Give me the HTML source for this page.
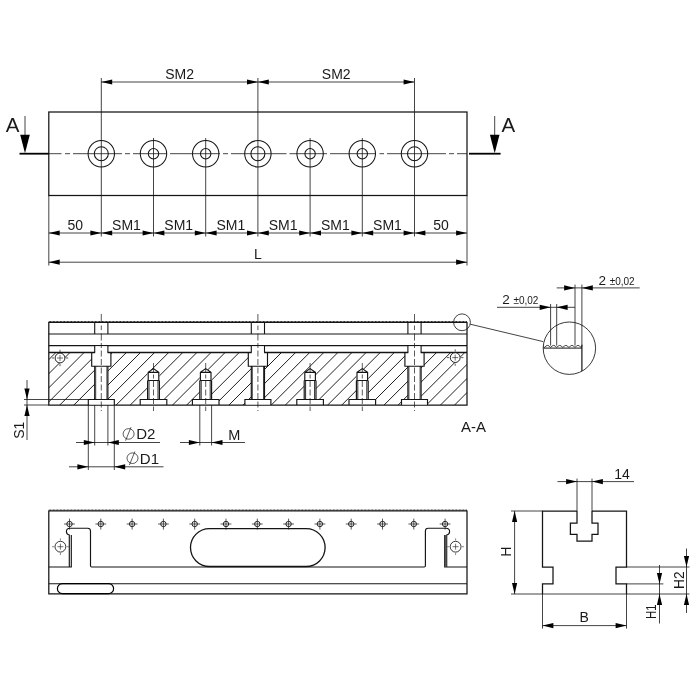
<!DOCTYPE html>
<html><head><meta charset="utf-8"><title>Drawing</title>
<style>
html,body{margin:0;padding:0;background:#fff;}
body{width:700px;height:700px;overflow:hidden;}
svg{display:block;filter:grayscale(1);}
text{font-family:"Liberation Sans",sans-serif;fill:#1a1a1a;}
</style></head><body>
<svg width="700" height="700" viewBox="0 0 700 700">
<rect width="700" height="700" fill="#fff"/>
<rect x="48.8" y="112" width="418.2" height="83.5" fill="none" stroke="#141414" stroke-width="1.25"/>
<line x1="49" y1="153.7" x2="61.5" y2="153.7" stroke="#141414" stroke-width="0.8" />
<line x1="65" y1="153.7" x2="70" y2="153.7" stroke="#141414" stroke-width="0.8" />
<line x1="73" y1="153.7" x2="122" y2="153.7" stroke="#141414" stroke-width="0.8" />
<line x1="125" y1="153.7" x2="130" y2="153.7" stroke="#141414" stroke-width="0.8" />
<line x1="133" y1="153.7" x2="167" y2="153.7" stroke="#141414" stroke-width="0.8" />
<line x1="170" y1="153.7" x2="220" y2="153.7" stroke="#141414" stroke-width="0.8" />
<line x1="223" y1="153.7" x2="228" y2="153.7" stroke="#141414" stroke-width="0.8" />
<line x1="231" y1="153.7" x2="286.5" y2="153.7" stroke="#141414" stroke-width="0.8" />
<line x1="289.5" y1="153.7" x2="327" y2="153.7" stroke="#141414" stroke-width="0.8" />
<line x1="330" y1="153.7" x2="376" y2="153.7" stroke="#141414" stroke-width="0.8" />
<line x1="379.5" y1="153.7" x2="384" y2="153.7" stroke="#141414" stroke-width="0.8" />
<line x1="387" y1="153.7" x2="446" y2="153.7" stroke="#141414" stroke-width="0.8" />
<line x1="449" y1="153.7" x2="454" y2="153.7" stroke="#141414" stroke-width="0.8" />
<line x1="457" y1="153.7" x2="467" y2="153.7" stroke="#141414" stroke-width="0.8" />
<circle cx="101.3" cy="153.7" r="13.2" stroke="#141414" stroke-width="1.05" fill="none"/>
<circle cx="101.3" cy="153.7" r="7.0" stroke="#141414" stroke-width="1.05" fill="none"/>
<line x1="101.3" y1="78" x2="101.3" y2="236.5" stroke="#141414" stroke-width="0.8" />
<circle cx="153.5" cy="153.7" r="13.2" stroke="#141414" stroke-width="1.05" fill="none"/>
<circle cx="153.5" cy="153.7" r="5.2" stroke="#141414" stroke-width="1.05" fill="none"/>
<line x1="153.5" y1="138" x2="153.5" y2="236.5" stroke="#141414" stroke-width="0.8" />
<circle cx="205.7" cy="153.7" r="13.2" stroke="#141414" stroke-width="1.05" fill="none"/>
<circle cx="205.7" cy="153.7" r="5.2" stroke="#141414" stroke-width="1.05" fill="none"/>
<line x1="205.7" y1="138" x2="205.7" y2="236.5" stroke="#141414" stroke-width="0.8" />
<circle cx="257.9" cy="153.7" r="13.2" stroke="#141414" stroke-width="1.05" fill="none"/>
<circle cx="257.9" cy="153.7" r="7.0" stroke="#141414" stroke-width="1.05" fill="none"/>
<line x1="257.9" y1="78" x2="257.9" y2="236.5" stroke="#141414" stroke-width="0.8" />
<circle cx="310.1" cy="153.7" r="13.2" stroke="#141414" stroke-width="1.05" fill="none"/>
<circle cx="310.1" cy="153.7" r="5.2" stroke="#141414" stroke-width="1.05" fill="none"/>
<line x1="310.1" y1="138" x2="310.1" y2="236.5" stroke="#141414" stroke-width="0.8" />
<circle cx="362.3" cy="153.7" r="13.2" stroke="#141414" stroke-width="1.05" fill="none"/>
<circle cx="362.3" cy="153.7" r="5.2" stroke="#141414" stroke-width="1.05" fill="none"/>
<line x1="362.3" y1="138" x2="362.3" y2="236.5" stroke="#141414" stroke-width="0.8" />
<circle cx="414.5" cy="153.7" r="13.2" stroke="#141414" stroke-width="1.05" fill="none"/>
<circle cx="414.5" cy="153.7" r="7.0" stroke="#141414" stroke-width="1.05" fill="none"/>
<line x1="414.5" y1="78" x2="414.5" y2="236.5" stroke="#141414" stroke-width="0.8" />
<line x1="19.5" y1="153.7" x2="48.8" y2="153.7" stroke="#000" stroke-width="1.8" />
<line x1="469" y1="153.7" x2="500.6" y2="153.7" stroke="#000" stroke-width="1.8" />
<line x1="25" y1="116" x2="25" y2="136" stroke="#141414" stroke-width="0.8" />
<line x1="494.7" y1="116" x2="494.7" y2="136" stroke="#141414" stroke-width="0.8" />
<polygon points="25,153.2 20.2,134.8 29.8,134.8" fill="#000"/>
<polygon points="494.7,153.2 489.9,134.8 499.5,134.8" fill="#000"/>
<text x="12.7" y="131.8" font-size="20.5" text-anchor="middle" >A</text>
<text x="508.4" y="131.8" font-size="20.5" text-anchor="middle" >A</text>
<line x1="101.3" y1="82" x2="414.5" y2="82" stroke="#141414" stroke-width="0.8" />
<polygon points="101.3,82 112.20,79.40 112.20,84.60" fill="#000"/>
<polygon points="257.9,82 247.00,84.60 247.00,79.40" fill="#000"/>
<polygon points="257.9,82 268.80,79.40 268.80,84.60" fill="#000"/>
<polygon points="414.5,82 403.60,84.60 403.60,79.40" fill="#000"/>
<text x="179.6" y="79" font-size="14" text-anchor="middle" >SM2</text>
<text x="336.2" y="79" font-size="14" text-anchor="middle" >SM2</text>
<line x1="48.8" y1="195.5" x2="48.8" y2="265.5" stroke="#141414" stroke-width="0.8" />
<line x1="467.0" y1="195.5" x2="467.0" y2="265.5" stroke="#141414" stroke-width="0.8" />
<line x1="48.8" y1="233" x2="467.0" y2="233" stroke="#141414" stroke-width="0.8" />
<polygon points="48.8,233 59.70,230.40 59.70,235.60" fill="#000"/>
<polygon points="101.3,233 90.40,235.60 90.40,230.40" fill="#000"/>
<text x="75.35" y="229.7" font-size="14" text-anchor="middle" >50</text>
<polygon points="101.3,233 112.20,230.40 112.20,235.60" fill="#000"/>
<polygon points="153.5,233 142.60,235.60 142.60,230.40" fill="#000"/>
<text x="126.5" y="229.7" font-size="14" text-anchor="middle" >SM1</text>
<polygon points="153.5,233 164.40,230.40 164.40,235.60" fill="#000"/>
<polygon points="205.7,233 194.80,235.60 194.80,230.40" fill="#000"/>
<text x="178.7" y="229.7" font-size="14" text-anchor="middle" >SM1</text>
<polygon points="205.7,233 216.60,230.40 216.60,235.60" fill="#000"/>
<polygon points="257.9,233 247.00,235.60 247.00,230.40" fill="#000"/>
<text x="230.89999999999998" y="229.7" font-size="14" text-anchor="middle" >SM1</text>
<polygon points="257.9,233 268.80,230.40 268.80,235.60" fill="#000"/>
<polygon points="310.1,233 299.20,235.60 299.20,230.40" fill="#000"/>
<text x="283.1" y="229.7" font-size="14" text-anchor="middle" >SM1</text>
<polygon points="310.1,233 321.00,230.40 321.00,235.60" fill="#000"/>
<polygon points="362.3,233 351.40,235.60 351.40,230.40" fill="#000"/>
<text x="335.30000000000007" y="229.7" font-size="14" text-anchor="middle" >SM1</text>
<polygon points="362.3,233 373.20,230.40 373.20,235.60" fill="#000"/>
<polygon points="414.5,233 403.60,235.60 403.60,230.40" fill="#000"/>
<text x="387.5" y="229.7" font-size="14" text-anchor="middle" >SM1</text>
<polygon points="414.5,233 425.40,230.40 425.40,235.60" fill="#000"/>
<polygon points="467.0,233 456.10,235.60 456.10,230.40" fill="#000"/>
<text x="441.05" y="229.7" font-size="14" text-anchor="middle" >50</text>
<line x1="48.8" y1="262.2" x2="467.0" y2="262.2" stroke="#141414" stroke-width="0.8" />
<polygon points="48.8,262.2 59.70,259.60 59.70,264.80" fill="#000"/>
<polygon points="467.0,262.2 456.10,264.80 456.10,259.60" fill="#000"/>
<text x="258" y="259.2" font-size="14" text-anchor="middle" >L</text>
<defs><clipPath id="hc"><path clip-rule="evenodd" d="
M48.8,352.5 H467.0 V405 H48.8 Z M91.7,352.5 H110.89999999999999 V366.2 H107.89999999999999 V399.5 H114.3 V405 H88.3 V399.5 H94.7 V366.2 H91.7 Z M147.6,372.3 L153.5,368.6 L159.4,372.3 V399.5 H166.8 V405 H140.2 V399.5 H147.6 Z M199.79999999999998,372.3 L205.7,368.6 L211.6,372.3 V399.5 H219.0 V405 H192.39999999999998 V399.5 H199.79999999999998 Z M248.29999999999998,352.5 H267.5 V366.2 H264.5 V399.5 H270.9 V405 H244.89999999999998 V399.5 H251.29999999999998 V366.2 H248.29999999999998 Z M304.20000000000005,372.3 L310.1,368.6 L316.0,372.3 V399.5 H323.40000000000003 V405 H296.8 V399.5 H304.20000000000005 Z M356.40000000000003,372.3 L362.3,368.6 L368.2,372.3 V399.5 H375.6 V405 H349.0 V399.5 H356.40000000000003 Z M404.9,352.5 H424.1 V366.2 H421.1 V399.5 H427.5 V405 H401.5 V399.5 H407.9 V366.2 H404.9 Z M54.8,358 a5.2,5.2 0 1,0 10.4,0 a5.2,5.2 0 1,0 -10.4,0 Z M450.0,357.6 a5.2,5.2 0 1,0 10.4,0 a5.2,5.2 0 1,0 -10.4,0 Z "/></clipPath></defs>
<g clip-path="url(#hc)">
<line x1="-382.8" y1="340" x2="-462.8" y2="420" stroke="#141414" stroke-width="0.95"/>
<line x1="-368.7" y1="340" x2="-448.7" y2="420" stroke="#141414" stroke-width="0.95"/>
<line x1="-354.6" y1="340" x2="-434.6" y2="420" stroke="#141414" stroke-width="0.95"/>
<line x1="-340.5" y1="340" x2="-420.5" y2="420" stroke="#141414" stroke-width="0.95"/>
<line x1="-326.4" y1="340" x2="-406.4" y2="420" stroke="#141414" stroke-width="0.95"/>
<line x1="-312.3" y1="340" x2="-392.3" y2="420" stroke="#141414" stroke-width="0.95"/>
<line x1="-298.2" y1="340" x2="-378.2" y2="420" stroke="#141414" stroke-width="0.95"/>
<line x1="-284.1" y1="340" x2="-364.1" y2="420" stroke="#141414" stroke-width="0.95"/>
<line x1="-270.0" y1="340" x2="-350.0" y2="420" stroke="#141414" stroke-width="0.95"/>
<line x1="-255.9" y1="340" x2="-335.9" y2="420" stroke="#141414" stroke-width="0.95"/>
<line x1="-241.8" y1="340" x2="-321.8" y2="420" stroke="#141414" stroke-width="0.95"/>
<line x1="-227.7" y1="340" x2="-307.7" y2="420" stroke="#141414" stroke-width="0.95"/>
<line x1="-213.6" y1="340" x2="-293.6" y2="420" stroke="#141414" stroke-width="0.95"/>
<line x1="-199.5" y1="340" x2="-279.5" y2="420" stroke="#141414" stroke-width="0.95"/>
<line x1="-185.4" y1="340" x2="-265.4" y2="420" stroke="#141414" stroke-width="0.95"/>
<line x1="-171.3" y1="340" x2="-251.3" y2="420" stroke="#141414" stroke-width="0.95"/>
<line x1="-157.2" y1="340" x2="-237.2" y2="420" stroke="#141414" stroke-width="0.95"/>
<line x1="-143.1" y1="340" x2="-223.1" y2="420" stroke="#141414" stroke-width="0.95"/>
<line x1="-129.0" y1="340" x2="-209.0" y2="420" stroke="#141414" stroke-width="0.95"/>
<line x1="-114.9" y1="340" x2="-194.9" y2="420" stroke="#141414" stroke-width="0.95"/>
<line x1="-100.8" y1="340" x2="-180.8" y2="420" stroke="#141414" stroke-width="0.95"/>
<line x1="-86.7" y1="340" x2="-166.7" y2="420" stroke="#141414" stroke-width="0.95"/>
<line x1="-72.6" y1="340" x2="-152.6" y2="420" stroke="#141414" stroke-width="0.95"/>
<line x1="-58.5" y1="340" x2="-138.5" y2="420" stroke="#141414" stroke-width="0.95"/>
<line x1="-44.4" y1="340" x2="-124.4" y2="420" stroke="#141414" stroke-width="0.95"/>
<line x1="-30.3" y1="340" x2="-110.3" y2="420" stroke="#141414" stroke-width="0.95"/>
<line x1="-16.2" y1="340" x2="-96.2" y2="420" stroke="#141414" stroke-width="0.95"/>
<line x1="-2.1" y1="340" x2="-82.1" y2="420" stroke="#141414" stroke-width="0.95"/>
<line x1="12.0" y1="340" x2="-68.0" y2="420" stroke="#141414" stroke-width="0.95"/>
<line x1="26.1" y1="340" x2="-53.9" y2="420" stroke="#141414" stroke-width="0.95"/>
<line x1="40.2" y1="340" x2="-39.8" y2="420" stroke="#141414" stroke-width="0.95"/>
<line x1="54.3" y1="340" x2="-25.7" y2="420" stroke="#141414" stroke-width="0.95"/>
<line x1="68.4" y1="340" x2="-11.6" y2="420" stroke="#141414" stroke-width="0.95"/>
<line x1="82.5" y1="340" x2="2.5" y2="420" stroke="#141414" stroke-width="0.95"/>
<line x1="96.6" y1="340" x2="16.6" y2="420" stroke="#141414" stroke-width="0.95"/>
<line x1="110.7" y1="340" x2="30.7" y2="420" stroke="#141414" stroke-width="0.95"/>
<line x1="124.8" y1="340" x2="44.8" y2="420" stroke="#141414" stroke-width="0.95"/>
<line x1="138.9" y1="340" x2="58.9" y2="420" stroke="#141414" stroke-width="0.95"/>
<line x1="153.0" y1="340" x2="73.0" y2="420" stroke="#141414" stroke-width="0.95"/>
<line x1="167.1" y1="340" x2="87.1" y2="420" stroke="#141414" stroke-width="0.95"/>
<line x1="181.2" y1="340" x2="101.2" y2="420" stroke="#141414" stroke-width="0.95"/>
<line x1="195.3" y1="340" x2="115.3" y2="420" stroke="#141414" stroke-width="0.95"/>
<line x1="209.4" y1="340" x2="129.4" y2="420" stroke="#141414" stroke-width="0.95"/>
<line x1="223.5" y1="340" x2="143.5" y2="420" stroke="#141414" stroke-width="0.95"/>
<line x1="237.6" y1="340" x2="157.6" y2="420" stroke="#141414" stroke-width="0.95"/>
<line x1="251.7" y1="340" x2="171.7" y2="420" stroke="#141414" stroke-width="0.95"/>
<line x1="265.8" y1="340" x2="185.8" y2="420" stroke="#141414" stroke-width="0.95"/>
<line x1="279.9" y1="340" x2="199.9" y2="420" stroke="#141414" stroke-width="0.95"/>
<line x1="294.0" y1="340" x2="214.0" y2="420" stroke="#141414" stroke-width="0.95"/>
<line x1="308.1" y1="340" x2="228.1" y2="420" stroke="#141414" stroke-width="0.95"/>
<line x1="322.2" y1="340" x2="242.2" y2="420" stroke="#141414" stroke-width="0.95"/>
<line x1="336.3" y1="340" x2="256.3" y2="420" stroke="#141414" stroke-width="0.95"/>
<line x1="350.4" y1="340" x2="270.4" y2="420" stroke="#141414" stroke-width="0.95"/>
<line x1="364.5" y1="340" x2="284.5" y2="420" stroke="#141414" stroke-width="0.95"/>
<line x1="378.6" y1="340" x2="298.6" y2="420" stroke="#141414" stroke-width="0.95"/>
<line x1="392.7" y1="340" x2="312.7" y2="420" stroke="#141414" stroke-width="0.95"/>
<line x1="406.8" y1="340" x2="326.8" y2="420" stroke="#141414" stroke-width="0.95"/>
<line x1="420.9" y1="340" x2="340.9" y2="420" stroke="#141414" stroke-width="0.95"/>
<line x1="435.0" y1="340" x2="355.0" y2="420" stroke="#141414" stroke-width="0.95"/>
<line x1="449.1" y1="340" x2="369.1" y2="420" stroke="#141414" stroke-width="0.95"/>
<line x1="463.2" y1="340" x2="383.2" y2="420" stroke="#141414" stroke-width="0.95"/>
<line x1="477.3" y1="340" x2="397.3" y2="420" stroke="#141414" stroke-width="0.95"/>
<line x1="491.4" y1="340" x2="411.4" y2="420" stroke="#141414" stroke-width="0.95"/>
<line x1="505.5" y1="340" x2="425.5" y2="420" stroke="#141414" stroke-width="0.95"/>
<line x1="519.6" y1="340" x2="439.6" y2="420" stroke="#141414" stroke-width="0.95"/>
<line x1="533.7" y1="340" x2="453.7" y2="420" stroke="#141414" stroke-width="0.95"/>
<line x1="547.8" y1="340" x2="467.8" y2="420" stroke="#141414" stroke-width="0.95"/>
<line x1="561.9" y1="340" x2="481.9" y2="420" stroke="#141414" stroke-width="0.95"/>
<line x1="576.0" y1="340" x2="496.0" y2="420" stroke="#141414" stroke-width="0.95"/>
<line x1="590.1" y1="340" x2="510.1" y2="420" stroke="#141414" stroke-width="0.95"/>
<line x1="604.2" y1="340" x2="524.2" y2="420" stroke="#141414" stroke-width="0.95"/>
<line x1="618.3" y1="340" x2="538.3" y2="420" stroke="#141414" stroke-width="0.95"/>
<line x1="632.4" y1="340" x2="552.4" y2="420" stroke="#141414" stroke-width="0.95"/>
<line x1="646.5" y1="340" x2="566.5" y2="420" stroke="#141414" stroke-width="0.95"/>
<line x1="660.6" y1="340" x2="580.6" y2="420" stroke="#141414" stroke-width="0.95"/>
<line x1="674.7" y1="340" x2="594.7" y2="420" stroke="#141414" stroke-width="0.95"/>
<line x1="688.8" y1="340" x2="608.8" y2="420" stroke="#141414" stroke-width="0.95"/>
<line x1="702.9" y1="340" x2="622.9" y2="420" stroke="#141414" stroke-width="0.95"/>
<line x1="717.0" y1="340" x2="637.0" y2="420" stroke="#141414" stroke-width="0.95"/>
<line x1="731.1" y1="340" x2="651.1" y2="420" stroke="#141414" stroke-width="0.95"/>
<line x1="745.2" y1="340" x2="665.2" y2="420" stroke="#141414" stroke-width="0.95"/>
<line x1="759.3" y1="340" x2="679.3" y2="420" stroke="#141414" stroke-width="0.95"/>
</g>
<path d="M48.8,322 V405 H467.0 V322" fill="none" stroke="#141414" stroke-width="1.25"/>
<line x1="48.8" y1="321.5" x2="467.0" y2="321.5" stroke="#141414" stroke-width="1.0" stroke-dasharray="0.8 0.6"/>
<line x1="48.8" y1="322.4" x2="467.0" y2="322.4" stroke="#141414" stroke-width="1.1" />
<line x1="48.8" y1="334" x2="467.0" y2="334" stroke="#141414" stroke-width="1.1" />
<line x1="48.8" y1="345.7" x2="467.0" y2="345.7" stroke="#141414" stroke-width="1.3" />
<line x1="48.8" y1="352.5" x2="467.0" y2="352.5" stroke="#141414" stroke-width="1.3" />
<rect x="95.1" y="346.3" width="12.4" height="7.800000000000011" fill="#fff"/>
<rect x="88.7" y="400.0" width="25.2" height="4.5" fill="#fff"/>
<line x1="94.7" y1="322" x2="94.7" y2="334" stroke="#141414" stroke-width="1.1" />
<line x1="107.89999999999999" y1="322" x2="107.89999999999999" y2="334" stroke="#141414" stroke-width="1.1" />
<line x1="94.7" y1="345.7" x2="94.7" y2="352.5" stroke="#141414" stroke-width="1.1" />
<line x1="107.89999999999999" y1="345.7" x2="107.89999999999999" y2="352.5" stroke="#141414" stroke-width="1.1" />
<path d="M91.7,352.5 V366.2 H94.7 V399.5 H88.3 V405 M110.89999999999999,352.5 V366.2 H107.89999999999999 V399.5 H114.3 V405 M94.7,399.5 H107.89999999999999 M91.7,366.2 H110.89999999999999" fill="none" stroke="#141414" stroke-width="1.15"/>
<line x1="95.7" y1="366.2" x2="95.7" y2="399.5" stroke="#141414" stroke-width="0.8" />
<line x1="106.89999999999999" y1="366.2" x2="106.89999999999999" y2="399.5" stroke="#141414" stroke-width="0.8" />
<line x1="101.3" y1="314" x2="101.3" y2="411" stroke="#141414" stroke-width="0.7" stroke-dasharray="8 3.5 4.5 3.5 7 2.5 5 2.5 6 2.5 6 2.5 6 2.5 6 2.5 6 2.5 6 2.5 6 2.5"/>
<path d="M148.2,380.5 V372.3 L153.5,368.6 L158.8,372.3 V380.5 M148.2,372.3 H158.8 M147.6,380.5 H159.4 M147.6,380.5 V399.5 M159.4,380.5 V399.5 M140.2,405 V399.5 H166.8 V405" fill="none" stroke="#141414" stroke-width="1.15"/>
<line x1="149.0" y1="380.5" x2="149.0" y2="399.5" stroke="#141414" stroke-width="0.9" />
<line x1="158.0" y1="380.5" x2="158.0" y2="399.5" stroke="#141414" stroke-width="0.9" />
<line x1="153.5" y1="363" x2="153.5" y2="411" stroke="#141414" stroke-width="0.7" stroke-dasharray="9 2.5 4 2.5 6 2.5 6 2.5 6 2.5 6 2.5"/>
<path d="M200.39999999999998,380.5 V372.3 L205.7,368.6 L211.0,372.3 V380.5 M200.39999999999998,372.3 H211.0 M199.79999999999998,380.5 H211.6 M199.79999999999998,380.5 V399.5 M211.6,380.5 V399.5 M192.39999999999998,405 V399.5 H219.0 V405" fill="none" stroke="#141414" stroke-width="1.15"/>
<line x1="201.2" y1="380.5" x2="201.2" y2="399.5" stroke="#141414" stroke-width="0.9" />
<line x1="210.2" y1="380.5" x2="210.2" y2="399.5" stroke="#141414" stroke-width="0.9" />
<line x1="205.7" y1="363" x2="205.7" y2="411" stroke="#141414" stroke-width="0.7" stroke-dasharray="9 2.5 4 2.5 6 2.5 6 2.5 6 2.5 6 2.5"/>
<rect x="251.7" y="346.3" width="12.4" height="7.800000000000011" fill="#fff"/>
<rect x="245.29999999999998" y="400.0" width="25.2" height="4.5" fill="#fff"/>
<line x1="251.29999999999998" y1="322" x2="251.29999999999998" y2="334" stroke="#141414" stroke-width="1.1" />
<line x1="264.5" y1="322" x2="264.5" y2="334" stroke="#141414" stroke-width="1.1" />
<line x1="251.29999999999998" y1="345.7" x2="251.29999999999998" y2="352.5" stroke="#141414" stroke-width="1.1" />
<line x1="264.5" y1="345.7" x2="264.5" y2="352.5" stroke="#141414" stroke-width="1.1" />
<path d="M248.29999999999998,352.5 V366.2 H251.29999999999998 V399.5 H244.89999999999998 V405 M267.5,352.5 V366.2 H264.5 V399.5 H270.9 V405 M251.29999999999998,399.5 H264.5 M248.29999999999998,366.2 H267.5" fill="none" stroke="#141414" stroke-width="1.15"/>
<line x1="252.29999999999998" y1="366.2" x2="252.29999999999998" y2="399.5" stroke="#141414" stroke-width="0.8" />
<line x1="263.5" y1="366.2" x2="263.5" y2="399.5" stroke="#141414" stroke-width="0.8" />
<line x1="257.9" y1="314" x2="257.9" y2="411" stroke="#141414" stroke-width="0.7" stroke-dasharray="8 3.5 4.5 3.5 7 2.5 5 2.5 6 2.5 6 2.5 6 2.5 6 2.5 6 2.5 6 2.5 6 2.5"/>
<path d="M304.8,380.5 V372.3 L310.1,368.6 L315.40000000000003,372.3 V380.5 M304.8,372.3 H315.40000000000003 M304.20000000000005,380.5 H316.0 M304.20000000000005,380.5 V399.5 M316.0,380.5 V399.5 M296.8,405 V399.5 H323.40000000000003 V405" fill="none" stroke="#141414" stroke-width="1.15"/>
<line x1="305.6" y1="380.5" x2="305.6" y2="399.5" stroke="#141414" stroke-width="0.9" />
<line x1="314.6" y1="380.5" x2="314.6" y2="399.5" stroke="#141414" stroke-width="0.9" />
<line x1="310.1" y1="363" x2="310.1" y2="411" stroke="#141414" stroke-width="0.7" stroke-dasharray="9 2.5 4 2.5 6 2.5 6 2.5 6 2.5 6 2.5"/>
<path d="M357.0,380.5 V372.3 L362.3,368.6 L367.6,372.3 V380.5 M357.0,372.3 H367.6 M356.40000000000003,380.5 H368.2 M356.40000000000003,380.5 V399.5 M368.2,380.5 V399.5 M349.0,405 V399.5 H375.6 V405" fill="none" stroke="#141414" stroke-width="1.15"/>
<line x1="357.8" y1="380.5" x2="357.8" y2="399.5" stroke="#141414" stroke-width="0.9" />
<line x1="366.8" y1="380.5" x2="366.8" y2="399.5" stroke="#141414" stroke-width="0.9" />
<line x1="362.3" y1="363" x2="362.3" y2="411" stroke="#141414" stroke-width="0.7" stroke-dasharray="9 2.5 4 2.5 6 2.5 6 2.5 6 2.5 6 2.5"/>
<rect x="408.3" y="346.3" width="12.4" height="7.800000000000011" fill="#fff"/>
<rect x="401.9" y="400.0" width="25.2" height="4.5" fill="#fff"/>
<line x1="407.9" y1="322" x2="407.9" y2="334" stroke="#141414" stroke-width="1.1" />
<line x1="421.1" y1="322" x2="421.1" y2="334" stroke="#141414" stroke-width="1.1" />
<line x1="407.9" y1="345.7" x2="407.9" y2="352.5" stroke="#141414" stroke-width="1.1" />
<line x1="421.1" y1="345.7" x2="421.1" y2="352.5" stroke="#141414" stroke-width="1.1" />
<path d="M404.9,352.5 V366.2 H407.9 V399.5 H401.5 V405 M424.1,352.5 V366.2 H421.1 V399.5 H427.5 V405 M407.9,399.5 H421.1 M404.9,366.2 H424.1" fill="none" stroke="#141414" stroke-width="1.15"/>
<line x1="408.9" y1="366.2" x2="408.9" y2="399.5" stroke="#141414" stroke-width="0.8" />
<line x1="420.1" y1="366.2" x2="420.1" y2="399.5" stroke="#141414" stroke-width="0.8" />
<line x1="414.5" y1="314" x2="414.5" y2="411" stroke="#141414" stroke-width="0.7" stroke-dasharray="8 3.5 4.5 3.5 7 2.5 5 2.5 6 2.5 6 2.5 6 2.5 6 2.5 6 2.5 6 2.5 6 2.5"/>
<circle cx="60" cy="358" r="4.9" stroke="#141414" stroke-width="0.95" fill="#fff"/>
<line x1="57" y1="358" x2="63" y2="358" stroke="#141414" stroke-width="0.6" />
<line x1="60" y1="355" x2="60" y2="361" stroke="#141414" stroke-width="0.6" />
<line x1="51.8" y1="358" x2="54" y2="358" stroke="#141414" stroke-width="0.7" />
<line x1="66" y1="358" x2="68.2" y2="358" stroke="#141414" stroke-width="0.7" />
<line x1="60" y1="349.8" x2="60" y2="352" stroke="#141414" stroke-width="0.7" />
<line x1="60" y1="364" x2="60" y2="366.2" stroke="#141414" stroke-width="0.7" />
<circle cx="455.2" cy="357.6" r="4.9" stroke="#141414" stroke-width="0.95" fill="#fff"/>
<line x1="452.2" y1="357.6" x2="458.2" y2="357.6" stroke="#141414" stroke-width="0.6" />
<line x1="455.2" y1="354.6" x2="455.2" y2="360.6" stroke="#141414" stroke-width="0.6" />
<line x1="447.0" y1="357.6" x2="449.2" y2="357.6" stroke="#141414" stroke-width="0.7" />
<line x1="461.2" y1="357.6" x2="463.4" y2="357.6" stroke="#141414" stroke-width="0.7" />
<line x1="455.2" y1="349.40000000000003" x2="455.2" y2="351.6" stroke="#141414" stroke-width="0.7" />
<line x1="455.2" y1="363.6" x2="455.2" y2="365.8" stroke="#141414" stroke-width="0.7" />
<line x1="24" y1="399.5" x2="88.3" y2="399.5" stroke="#141414" stroke-width="0.8" />
<line x1="24" y1="405" x2="48.8" y2="405" stroke="#141414" stroke-width="0.8" />
<line x1="27" y1="380" x2="27" y2="440" stroke="#141414" stroke-width="0.8" />
<polygon points="27,399.5 24.40,388.60 29.60,388.60" fill="#000"/>
<polygon points="27,405 29.60,415.90 24.40,415.90" fill="#000"/>
<text x="23.6" y="430.2" font-size="14" text-anchor="middle" transform="rotate(-90 23.6 430.2)" >S1</text>
<line x1="94.7" y1="405" x2="94.7" y2="445.5" stroke="#141414" stroke-width="0.8" />
<line x1="107.89999999999999" y1="405" x2="107.89999999999999" y2="445.5" stroke="#141414" stroke-width="0.8" />
<line x1="88.3" y1="405" x2="88.3" y2="470" stroke="#141414" stroke-width="0.8" />
<line x1="114.3" y1="405" x2="114.3" y2="470" stroke="#141414" stroke-width="0.8" />
<line x1="76" y1="442.5" x2="160" y2="442.5" stroke="#141414" stroke-width="0.8" />
<polygon points="94.7,442.5 83.80,445.10 83.80,439.90" fill="#000"/>
<polygon points="107.89999999999999,442.5 118.80,439.90 118.80,445.10" fill="#000"/>
<line x1="69" y1="466.8" x2="163.5" y2="466.8" stroke="#141414" stroke-width="0.8" />
<polygon points="88.3,466.8 77.40,469.40 77.40,464.20" fill="#000"/>
<polygon points="114.3,466.8 125.20,464.20 125.20,469.40" fill="#000"/>
<text x="136.2" y="439.4" font-size="15" text-anchor="start" >D2</text>
<text x="139.8" y="463.9" font-size="15" text-anchor="start" transform="rotate(textLength="16.5" lengthAdjust="spacingAndGlyphs" 139.8 463.9)" >D1</text>
<ellipse cx="128.6" cy="433.9" rx="5.5" ry="5.3" fill="none" stroke="#141414" stroke-width="0.7"/>
<line x1="125.5" y1="440.7" x2="131.0" y2="427.2" stroke="#141414" stroke-width="0.7" />
<ellipse cx="132.5" cy="458.2" rx="5.5" ry="5.3" fill="none" stroke="#141414" stroke-width="0.7"/>
<line x1="129.4" y1="465.0" x2="134.9" y2="451.5" stroke="#141414" stroke-width="0.7" />
<line x1="199.79999999999998" y1="405" x2="199.79999999999998" y2="445.5" stroke="#141414" stroke-width="0.8" />
<line x1="211.6" y1="405" x2="211.6" y2="445.5" stroke="#141414" stroke-width="0.8" />
<line x1="180" y1="442.5" x2="245" y2="442.5" stroke="#141414" stroke-width="0.8" />
<polygon points="199.79999999999998,442.5 188.90,445.10 188.90,439.90" fill="#000"/>
<polygon points="211.6,442.5 222.50,439.90 222.50,445.10" fill="#000"/>
<text x="234.4" y="439.6" font-size="14.5" text-anchor="middle" >M</text>
<text x="473.5" y="432" font-size="15" text-anchor="middle" >A-A</text>
<circle cx="462" cy="322.3" r="8.4" stroke="#141414" stroke-width="0.8" fill="none"/>
<line x1="470.2" y1="324.2" x2="543.2" y2="341.6" stroke="#141414" stroke-width="0.8" />
<defs><clipPath id="dc"><circle cx="569.4" cy="348.2" r="26.2"/></clipPath></defs>
<g clip-path="url(#dc)">
<path d="M543.3,346.2 M542,345.6 q1.3,0 2.5,1.9 q3.05,-4.2 6.1,0 q3.05,-4.2 6.1,0 q3.05,-4.2 6.1,0 q3.05,-4.2 6.1,0 q3.05,-4.2 6.1,0 q3.05,-4.2 6.1,0 q0.6,-1 1.2,-1.6" fill="none" stroke="#141414" stroke-width="0.8"/>
<line x1="540" y1="348.1" x2="581.9" y2="348.1" stroke="#141414" stroke-width="1.0" />
<line x1="581.9" y1="344.8" x2="581.9" y2="380" stroke="#141414" stroke-width="1.2" />
</g>
<circle cx="569.4" cy="348.2" r="26.2" stroke="#141414" stroke-width="0.85" fill="none"/>
<line x1="550.6" y1="304" x2="550.6" y2="345.6" stroke="#141414" stroke-width="0.8" />
<line x1="556.7" y1="304" x2="556.7" y2="345.6" stroke="#141414" stroke-width="0.8" />
<line x1="575" y1="284.6" x2="575" y2="345.6" stroke="#141414" stroke-width="0.8" />
<line x1="581.9" y1="284.6" x2="581.9" y2="345.6" stroke="#141414" stroke-width="0.8" />
<line x1="556.7" y1="287.9" x2="639.7" y2="287.9" stroke="#141414" stroke-width="0.8" />
<polygon points="575,287.9 564.10,290.50 564.10,285.30" fill="#000"/>
<polygon points="581.9,287.9 592.80,285.30 592.80,290.50" fill="#000"/>
<line x1="497" y1="307.3" x2="575" y2="307.3" stroke="#141414" stroke-width="0.8" />
<polygon points="550.6,307.3 539.70,309.90 539.70,304.70" fill="#000"/>
<polygon points="556.7,307.3 567.60,304.70 567.60,309.90" fill="#000"/>
<text x="598.4" y="284.8" font-size="13.5" text-anchor="start">2 <tspan font-size="10">±0,02</tspan></text>
<text x="502.2" y="304.4" font-size="13.5" text-anchor="start">2 <tspan font-size="10">±0,02</tspan></text>
<path d="M48.8,510.5 V593.8 H467.0 V510.5" fill="none" stroke="#141414" stroke-width="1.25"/>
<line x1="48.8" y1="510.0" x2="467.0" y2="510.0" stroke="#141414" stroke-width="1.0" stroke-dasharray="0.8 0.6"/>
<line x1="48.8" y1="510.9" x2="467.0" y2="510.9" stroke="#141414" stroke-width="1.1" />
<line x1="48.8" y1="583.8" x2="467.0" y2="583.8" stroke="#141414" stroke-width="1.1" />
<path d="M48.8,567 H71.3 V535 M69.3,567 V535 Q66.4,534.6 66.4,531.6 Q66.4,528.2 70,528.2 H87.6 Q90.5,528.2 90.5,531 V565.8 Q90.5,567 91.7,567 H424.2 Q425.4,567 425.4,565.8 V531 Q425.4,528.2 428.3,528.2 H446 Q449.6,528.2 449.6,531.6 Q449.6,534.6 446.7,535 V567 M444.7,535 V567 H467.0" fill="none" stroke="#141414" stroke-width="1.15"/>
<line x1="445.7" y1="535" x2="445.7" y2="567" stroke="#555" stroke-width="1.6" />
<rect x="190.5" y="528.6" width="134.6" height="37.9" rx="18.95" fill="#fff" stroke="#141414" stroke-width="1.3"/>
<rect x="57.4" y="583.7" width="56.2" height="9.9" rx="4.95" fill="none" stroke="#000" stroke-width="1.2"/>
<circle cx="69.5" cy="524.0" r="2.7" stroke="#141414" stroke-width="0.9" fill="none"/>
<line x1="64.1" y1="524.0" x2="74.9" y2="524.0" stroke="#141414" stroke-width="0.7" />
<line x1="69.5" y1="518.6" x2="69.5" y2="529.6" stroke="#141414" stroke-width="0.7" />
<circle cx="100.8" cy="524.0" r="2.7" stroke="#141414" stroke-width="0.9" fill="none"/>
<line x1="95.39999999999999" y1="524.0" x2="106.2" y2="524.0" stroke="#141414" stroke-width="0.7" />
<line x1="100.8" y1="518.6" x2="100.8" y2="529.6" stroke="#141414" stroke-width="0.7" />
<circle cx="132.1" cy="524.0" r="2.7" stroke="#141414" stroke-width="0.9" fill="none"/>
<line x1="126.69999999999999" y1="524.0" x2="137.5" y2="524.0" stroke="#141414" stroke-width="0.7" />
<line x1="132.1" y1="518.6" x2="132.1" y2="529.6" stroke="#141414" stroke-width="0.7" />
<circle cx="163.4" cy="524.0" r="2.7" stroke="#141414" stroke-width="0.9" fill="none"/>
<line x1="158.0" y1="524.0" x2="168.8" y2="524.0" stroke="#141414" stroke-width="0.7" />
<line x1="163.4" y1="518.6" x2="163.4" y2="529.6" stroke="#141414" stroke-width="0.7" />
<circle cx="194.7" cy="524.0" r="2.7" stroke="#141414" stroke-width="0.9" fill="none"/>
<line x1="189.29999999999998" y1="524.0" x2="200.1" y2="524.0" stroke="#141414" stroke-width="0.7" />
<line x1="194.7" y1="518.6" x2="194.7" y2="529.6" stroke="#141414" stroke-width="0.7" />
<circle cx="226.0" cy="524.0" r="2.7" stroke="#141414" stroke-width="0.9" fill="none"/>
<line x1="220.6" y1="524.0" x2="231.4" y2="524.0" stroke="#141414" stroke-width="0.7" />
<line x1="226.0" y1="518.6" x2="226.0" y2="529.6" stroke="#141414" stroke-width="0.7" />
<circle cx="257.3" cy="524.0" r="2.7" stroke="#141414" stroke-width="0.9" fill="none"/>
<line x1="251.9" y1="524.0" x2="262.7" y2="524.0" stroke="#141414" stroke-width="0.7" />
<line x1="257.3" y1="518.6" x2="257.3" y2="529.6" stroke="#141414" stroke-width="0.7" />
<circle cx="288.6" cy="524.0" r="2.7" stroke="#141414" stroke-width="0.9" fill="none"/>
<line x1="283.20000000000005" y1="524.0" x2="294.0" y2="524.0" stroke="#141414" stroke-width="0.7" />
<line x1="288.6" y1="518.6" x2="288.6" y2="529.6" stroke="#141414" stroke-width="0.7" />
<circle cx="319.9" cy="524.0" r="2.7" stroke="#141414" stroke-width="0.9" fill="none"/>
<line x1="314.5" y1="524.0" x2="325.29999999999995" y2="524.0" stroke="#141414" stroke-width="0.7" />
<line x1="319.9" y1="518.6" x2="319.9" y2="529.6" stroke="#141414" stroke-width="0.7" />
<circle cx="351.2" cy="524.0" r="2.7" stroke="#141414" stroke-width="0.9" fill="none"/>
<line x1="345.8" y1="524.0" x2="356.59999999999997" y2="524.0" stroke="#141414" stroke-width="0.7" />
<line x1="351.2" y1="518.6" x2="351.2" y2="529.6" stroke="#141414" stroke-width="0.7" />
<circle cx="382.5" cy="524.0" r="2.7" stroke="#141414" stroke-width="0.9" fill="none"/>
<line x1="377.1" y1="524.0" x2="387.9" y2="524.0" stroke="#141414" stroke-width="0.7" />
<line x1="382.5" y1="518.6" x2="382.5" y2="529.6" stroke="#141414" stroke-width="0.7" />
<circle cx="413.8" cy="524.0" r="2.7" stroke="#141414" stroke-width="0.9" fill="none"/>
<line x1="408.40000000000003" y1="524.0" x2="419.2" y2="524.0" stroke="#141414" stroke-width="0.7" />
<line x1="413.8" y1="518.6" x2="413.8" y2="529.6" stroke="#141414" stroke-width="0.7" />
<circle cx="445.1" cy="524.0" r="2.7" stroke="#141414" stroke-width="0.9" fill="none"/>
<line x1="439.70000000000005" y1="524.0" x2="450.5" y2="524.0" stroke="#141414" stroke-width="0.7" />
<line x1="445.1" y1="518.6" x2="445.1" y2="529.6" stroke="#141414" stroke-width="0.7" />
<circle cx="60.4" cy="546.7" r="5.4" stroke="#141414" stroke-width="0.85" fill="none"/>
<line x1="57.4" y1="546.7" x2="63.4" y2="546.7" stroke="#141414" stroke-width="0.6" />
<line x1="60.4" y1="543.7" x2="60.4" y2="549.7" stroke="#141414" stroke-width="0.6" />
<line x1="52.0" y1="546.7" x2="54.199999999999996" y2="546.7" stroke="#141414" stroke-width="0.5" />
<line x1="66.6" y1="546.7" x2="68.8" y2="546.7" stroke="#141414" stroke-width="0.5" />
<line x1="60.4" y1="538.3000000000001" x2="60.4" y2="540.5" stroke="#141414" stroke-width="0.5" />
<line x1="60.4" y1="552.9000000000001" x2="60.4" y2="555.1" stroke="#141414" stroke-width="0.5" />
<circle cx="455.6" cy="546.7" r="5.4" stroke="#141414" stroke-width="0.85" fill="none"/>
<line x1="452.6" y1="546.7" x2="458.6" y2="546.7" stroke="#141414" stroke-width="0.6" />
<line x1="455.6" y1="543.7" x2="455.6" y2="549.7" stroke="#141414" stroke-width="0.6" />
<line x1="447.20000000000005" y1="546.7" x2="449.40000000000003" y2="546.7" stroke="#141414" stroke-width="0.5" />
<line x1="461.8" y1="546.7" x2="464.0" y2="546.7" stroke="#141414" stroke-width="0.5" />
<line x1="455.6" y1="538.3000000000001" x2="455.6" y2="540.5" stroke="#141414" stroke-width="0.5" />
<line x1="455.6" y1="552.9000000000001" x2="455.6" y2="555.1" stroke="#141414" stroke-width="0.5" />
<path d="M577,511 H542.5 V567 H553 V583.9 H542.5 V594 M626.5,594 V583.9 H616 V567 H626.5 V511 H592 M577,511 V523 H570.4 V534.4 H577 V541 H592 V534.4 H598 V523 H592 V511" fill="none" stroke="#141414" stroke-width="1.25"/>
<line x1="511" y1="594" x2="689.5" y2="594" stroke="#141414" stroke-width="0.8" />
<line x1="511" y1="511" x2="542.5" y2="511" stroke="#141414" stroke-width="0.8" />
<line x1="626.5" y1="567" x2="689.5" y2="567" stroke="#141414" stroke-width="0.8" />
<line x1="626.5" y1="583.9" x2="663.4" y2="583.9" stroke="#141414" stroke-width="0.8" />
<line x1="514.6" y1="511" x2="514.6" y2="594" stroke="#141414" stroke-width="0.8" />
<polygon points="514.6,511 517.20,521.90 512.00,521.90" fill="#000"/>
<polygon points="514.6,594 512.00,583.10 517.20,583.10" fill="#000"/>
<text x="510.6" y="551.8" font-size="14" text-anchor="middle" transform="rotate(-90 510.6 551.8)" >H</text>
<line x1="577" y1="478.6" x2="577" y2="511" stroke="#141414" stroke-width="0.8" />
<line x1="592" y1="478.6" x2="592" y2="511" stroke="#141414" stroke-width="0.8" />
<line x1="557.5" y1="481.6" x2="634" y2="481.6" stroke="#141414" stroke-width="0.8" />
<polygon points="577,481.6 566.10,484.20 566.10,479.00" fill="#000"/>
<polygon points="592,481.6 602.90,479.00 602.90,484.20" fill="#000"/>
<text x="622" y="478.7" font-size="14" text-anchor="middle" >14</text>
<line x1="542.5" y1="594" x2="542.5" y2="628.6" stroke="#141414" stroke-width="0.8" />
<line x1="626.5" y1="594" x2="626.5" y2="628.6" stroke="#141414" stroke-width="0.8" />
<line x1="542.5" y1="625.6" x2="626.5" y2="625.6" stroke="#141414" stroke-width="0.8" />
<polygon points="542.5,625.6 553.40,623.00 553.40,628.20" fill="#000"/>
<polygon points="626.5,625.6 615.60,628.20 615.60,623.00" fill="#000"/>
<text x="584.2" y="622.2" font-size="14" text-anchor="middle" >B</text>
<line x1="659.5" y1="565" x2="659.5" y2="623.5" stroke="#141414" stroke-width="0.8" />
<polygon points="659.5,583.9 656.90,573.00 662.10,573.00" fill="#000"/>
<polygon points="659.5,594 662.10,604.90 656.90,604.90" fill="#000"/>
<text x="656.2" y="611.8" font-size="14.5" text-anchor="middle" transform="rotate(-90 656.2 611.8)" textLength="14.5" lengthAdjust="spacingAndGlyphs">H1</text>
<line x1="686.5" y1="548.5" x2="686.5" y2="613" stroke="#141414" stroke-width="0.8" />
<polygon points="686.5,567 683.90,556.10 689.10,556.10" fill="#000"/>
<polygon points="686.5,594 689.10,604.90 683.90,604.90" fill="#000"/>
<text x="683.6" y="580.2" font-size="14.5" text-anchor="middle" transform="rotate(-90 683.6 580.2)" textLength="17.5" lengthAdjust="spacingAndGlyphs">H2</text>
</svg>
</body></html>
